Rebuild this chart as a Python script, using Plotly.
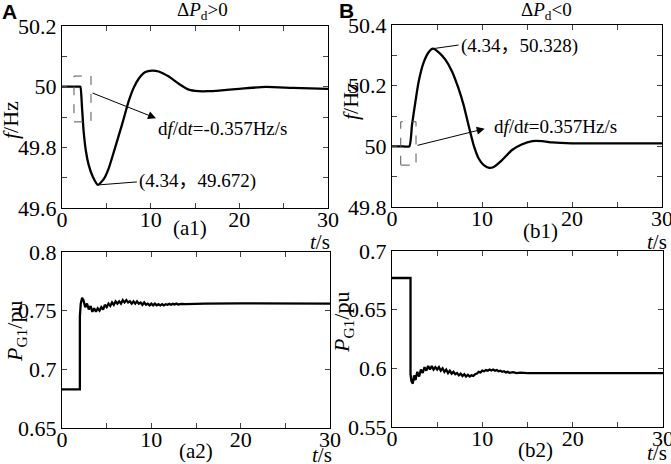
import plotly.graph_objects as go

# ---------------- data ----------------
t_a1 = [0, 1.0, 1.9, 2.07, 2.26, 2.44, 2.7, 3.0, 3.46, 4.06, 4.7, 5.26, 6.0, 6.77, 7.52,
        8.08, 8.65, 9.4, 10.15, 10.9, 12.0, 13.2, 14.3, 15.4, 16.5, 17.7, 20.0, 23.0,
        26.0, 30.0]
f_a1 = [50.0, 50.0, 50.0, 50.0, 49.93, 49.853, 49.787, 49.743, 49.704, 49.676, 49.695,
        49.73, 49.80, 49.875, 49.952, 49.996, 50.026, 50.048, 50.053, 50.05, 50.034,
        50.009, 49.99, 49.985, 49.985, 49.987, 49.993, 49.999, 49.996, 49.993]

t_b1 = [0, 1.0, 1.93, 2.22, 2.6, 2.96, 3.5, 4.07, 4.55, 5.19, 5.93, 6.67, 7.4, 7.96,
        8.5, 9.07, 9.63, 10.2, 10.8, 11.3, 12.2, 13.3, 14.4, 15.6, 16.7, 17.8, 20.0,
        25.0, 30.0]
f_b1 = [50.0, 50.0, 50.0, 50.07, 50.147, 50.213, 50.275, 50.31, 50.322, 50.31, 50.286,
        50.247, 50.19, 50.136, 50.07, 50.004, 49.96, 49.938, 49.929, 49.932, 49.954,
        49.987, 50.006, 50.017, 50.017, 50.013, 50.01, 50.01, 50.01]

t_a2 = [0, 2.0, 2.0, 2.1, 2.25, 2.4, 2.6, 2.8, 3.0, 3.2, 3.4, 3.6, 3.8, 4.0, 4.2, 4.4,
        4.6, 4.8, 5.0, 5.2, 5.4, 5.6, 5.8, 6.0, 6.2, 6.4, 6.6, 6.8, 7.0, 7.2, 7.4, 7.6,
        7.8, 8.0, 8.2, 8.4, 8.6, 8.8, 9.0, 9.2, 9.4, 9.6, 9.8, 10.0, 10.2, 10.4, 10.6,
        10.8, 11.0, 11.2, 11.4, 11.6, 11.8, 12.0, 12.2, 12.4, 12.6, 12.8, 13.0, 13.4,
        13.8, 14.5, 16.0, 20.0, 25.0, 30.0]
p_a2 = [0.683, 0.683, 0.745, 0.756, 0.761, 0.759, 0.753, 0.756, 0.751, 0.754, 0.749,
        0.752, 0.749, 0.752, 0.750, 0.753, 0.751, 0.755, 0.753, 0.756, 0.754, 0.757,
        0.755, 0.758, 0.756, 0.758, 0.756, 0.759, 0.757, 0.759, 0.757, 0.758, 0.756,
        0.758, 0.756, 0.758, 0.756, 0.757, 0.755, 0.757, 0.755, 0.756, 0.7545, 0.756,
        0.7545, 0.756, 0.7545, 0.7555, 0.7545, 0.7555, 0.7545, 0.7555, 0.755, 0.7558,
        0.755, 0.7558, 0.7552, 0.756, 0.7553, 0.7558, 0.7555, 0.7558, 0.756, 0.7562,
        0.756, 0.756]

t_b2 = [0, 2.05, 2.05, 2.15, 2.3, 2.45, 2.6, 2.8, 3.0, 3.2, 3.4, 3.6, 3.8, 4.0, 4.2,
        4.4, 4.6, 4.8, 5.0, 5.2, 5.4, 5.6, 5.8, 6.0, 6.2, 6.4, 6.6, 6.8, 7.0, 7.2, 7.4,
        7.6, 7.8, 8.0, 8.2, 8.4, 8.6, 8.8, 9.0, 9.2, 9.4, 9.6, 9.8, 10.0, 10.2, 10.4,
        10.6, 10.8, 11.0, 11.2, 11.4, 11.6, 11.8, 12.0, 12.2, 12.4, 12.6, 12.8, 13.0,
        13.4, 13.8, 14.2, 15.0, 20.0, 30.0]
p_b2 = [0.677, 0.677, 0.595, 0.589, 0.587, 0.594, 0.590, 0.597, 0.593, 0.599, 0.596,
        0.601, 0.598, 0.602, 0.599, 0.602, 0.599, 0.601, 0.599, 0.601, 0.598, 0.600,
        0.597, 0.599, 0.596, 0.598, 0.5955, 0.597, 0.595, 0.596, 0.594, 0.5955, 0.5935,
        0.595, 0.593, 0.5945, 0.593, 0.594, 0.5935, 0.595, 0.5955, 0.597, 0.5965, 0.598,
        0.5975, 0.5985, 0.598, 0.599, 0.5982, 0.599, 0.598, 0.5985, 0.5975, 0.598,
        0.597, 0.5975, 0.5965, 0.597, 0.5962, 0.5967, 0.596, 0.5963, 0.596, 0.596, 0.596]

x_ticks = [0, 5, 10, 15, 20, 25, 30]
x_labels = ["0", "", "10", "", "20", "", "30"]
y_a1_ticks = [49.6, 49.7, 49.8, 49.9, 50.0, 50.1, 50.2]
y_a1_labels = ["49.6", "", "49.8", "", "50", "", "50.2"]
y_b1_ticks = [49.8, 49.9, 50.0, 50.1, 50.2, 50.3, 50.4]
y_b1_labels = ["49.8", "", "50", "", "50.2", "", "50.4"]
y_a2_ticks = [0.65, 0.7, 0.75, 0.8]
y_a2_labels = ["0.65", "0.7", "0.75", "0.8"]
y_b2_ticks = [0.55, 0.6, 0.65, 0.7]
y_b2_labels = ["0.55", "0.6", "0.65", "0.7"]

# ---------------- figure ----------------
W, H = 671, 464
SERIF = "Liberation Serif"
CJK = "Liberation Serif, Noto Sans CJK SC"

def px(x):
    return x / W

def py(y):
    return 1 - y / H

fig = go.Figure()
line = dict(color="black", width=2.3)
fig.add_trace(go.Scatter(x=t_a1, y=f_a1, mode="lines", line=dict(shape="spline", smoothing=0.5, **line),
                         xaxis="x", yaxis="y", showlegend=False))
fig.add_trace(go.Scatter(x=t_b1, y=f_b1, mode="lines", line=dict(shape="spline", smoothing=0.5, **line),
                         xaxis="x2", yaxis="y2", showlegend=False))
fig.add_trace(go.Scatter(x=t_a2, y=p_a2, mode="lines", line=dict(**line),
                         xaxis="x3", yaxis="y3", showlegend=False))
fig.add_trace(go.Scatter(x=t_b2, y=p_b2, mode="lines", line=dict(**line),
                         xaxis="x4", yaxis="y4", showlegend=False))

axis_common = dict(showline=True, linecolor="black", linewidth=1.2, mirror="ticks",
                   ticks="inside", ticklen=5, tickwidth=1, tickcolor="#444",
                   showgrid=False, zeroline=False, automargin=False,
                   ticklabeloverflow="allow",
                   tickfont=dict(family=SERIF, size=22, color="black"))

def xa(domain, anchor):
    return dict(domain=domain, anchor=anchor, range=[0, 30], tickmode="array",
                tickvals=x_ticks, ticktext=x_labels, ticklabelstandoff=-9, **axis_common)

def ya(domain, anchor, rng, tv, tt):
    return dict(domain=domain, anchor=anchor, range=rng, tickmode="array",
                tickvals=tv, ticktext=tt, **axis_common)

fig.update_layout(
    template="none",
    width=W, height=H, margin=dict(l=0, r=0, t=0, b=0, pad=0),
    paper_bgcolor="white", plot_bgcolor="white",
    font=dict(family=SERIF, color="black"),
    xaxis=xa([px(62), px(328)], "y"),
    yaxis=ya([py(208), py(26)], "x", [49.6, 50.2], y_a1_ticks, y_a1_labels),
    xaxis2=xa([px(392), px(662)], "y2"),
    yaxis2=ya([py(207), py(25)], "x2", [49.8, 50.4], y_b1_ticks, y_b1_labels),
    xaxis3=xa([px(62), px(330)], "y3"),
    yaxis3=ya([py(428), py(252)], "x3", [0.65, 0.8], y_a2_ticks, y_a2_labels),
    xaxis4=xa([px(392), px(663)], "y4"),
    yaxis4=ya([py(427), py(251)], "x4", [0.55, 0.7], y_b2_ticks, y_b2_labels),
)

# dashed boxes
fig.add_shape(type="rect", xref="x", yref="y", x0=1.35, x1=3.27, y0=49.884, y1=50.035,
              line=dict(color="#555", width=1, dash="dash"))
fig.add_shape(type="rect", xref="x2", yref="y2", x0=0.97, x1=2.67, y0=49.938, y1=50.081,
              line=dict(color="#555", width=1, dash="dash"))
# leader lines to extrema
fig.add_shape(type="line", xref="x", yref="y", x0=4.06, y0=49.676, x1=8.45, y1=49.686,
              line=dict(color="black", width=1))
fig.add_shape(type="line", xref="x2", yref="y2", x0=4.55, y0=50.322, x1=7.4, y1=50.334,
              line=dict(color="black", width=1))

ann = []
# arrows
ann.append(dict(xref="x", yref="y", axref="x", ayref="y", x=10.6, y=49.896, ax=3.27, ay=49.981,
                text="", showarrow=True, arrowhead=2, arrowsize=1.6, arrowwidth=1, arrowcolor="black"))
ann.append(dict(xref="x2", yref="y2", axref="x2", ayref="y2", x=10.3, y=50.058, ax=2.67, ay=50.002,
                text="", showarrow=True, arrowhead=2, arrowsize=1.6, arrowwidth=1, arrowcolor="black"))

def txt(x, y, s, size, xanchor="center", family=SERIF, yanchor="middle", angle=0):
    ann.append(dict(xref="paper", yref="paper", x=px(x), y=py(y), text=s, showarrow=False,
                    xanchor=xanchor, yanchor=yanchor, textangle=angle, borderpad=0,
                    font=dict(family=family, size=size, color="black")))

txt(157, 128, "d<i>f</i>/d<i>t</i>=-0.357Hz/s", 19, xanchor="left")
txt(493, 126, "d<i>f</i>/d<i>t</i>=0.357Hz/s", 19, xanchor="left")
txt(138, 181, "(4.34，49.672)", 19, xanchor="left", family=CJK)
txt(460, 46, "(4.34，50.328)", 19, xanchor="left", family=CJK)

txt(202, 11, "Δ<i>P</i><sub>d</sub>&gt;0", 19)
txt(546, 11, "Δ<i>P</i><sub>d</sub>&lt;0", 19)
txt(9, 12, "<b>A</b>", 21, family="Liberation Sans")
txt(347, 11, "<b>B</b>", 21, family="Liberation Sans")

txt(190, 228, "(a1)", 21)
txt(540, 231, "(b1)", 21)
txt(196, 451, "(a2)", 21)
txt(535, 450, "(b2)", 21)
txt(320, 242, "<i>t</i>/s", 21)
txt(657, 242, "<i>t</i>/s", 21)
txt(322, 455, "<i>t</i>/s", 21)
txt(657, 453, "<i>t</i>/s", 21)

txt(11, 120, "<i>f</i>/Hz", 22, angle=-90)
txt(351, 101, "<i>f</i>/Hz", 22, angle=-90)
txt(16, 332, "<i>P</i><sub>G1</sub>/pu", 22, angle=-90)
txt(343, 322, "<i>P</i><sub>G1</sub>/pu", 22, angle=-90)

fig.update_layout(annotations=ann)
fig.write_html("out.html",
               config={"displayModeBar": False, "staticPlot": True},
               post_script="document.body.style.margin='0';document.body.style.padding='0';"
                           "document.documentElement.style.overflow='hidden';")
